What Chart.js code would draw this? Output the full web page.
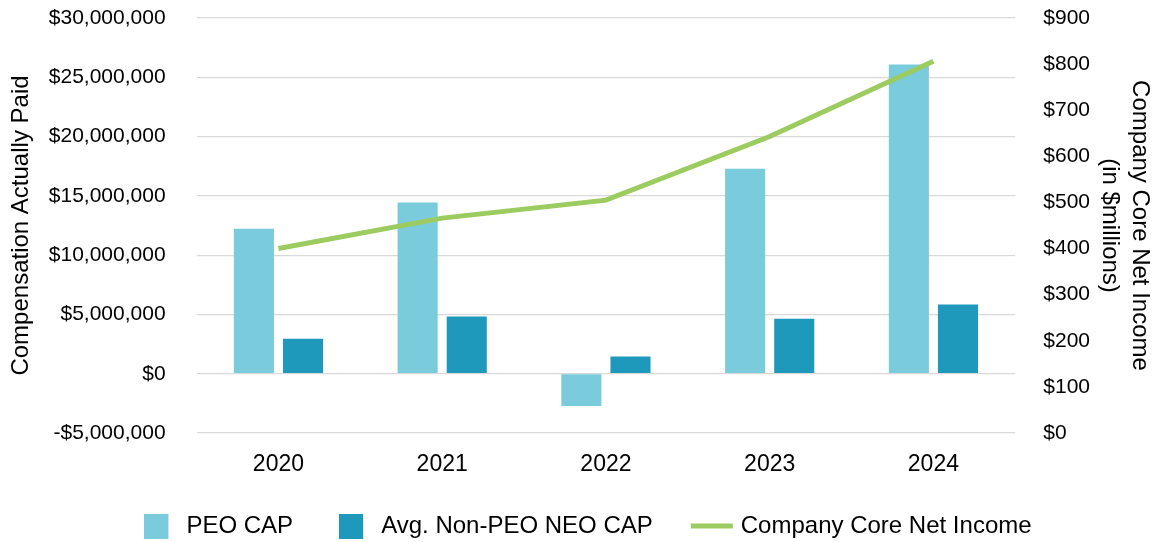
<!DOCTYPE html>
<html>
<head>
<meta charset="utf-8">
<script src="https://cdn.jsdelivr.net/npm/chart.js@4/dist/chart.umd.min.js"></script>
<style>
  html, body { margin: 0; padding: 0; background: #fff; }
  #wrap { width: 1159px; height: 542px; }
</style>
</head>
<body>
<div id="wrap"><canvas id="cap-chart"></canvas></div>
<script>
var years = ['2020', '2021', '2022', '2023', '2024'];
var peo_cap = [12230000, 14440000, -2720000, 17280000, 26080000];
var neo_cap = [2950000, 4830000, 1460000, 4640000, 5840000];
var core_net_income = [400, 466, 505, 643, 806];   // $ millions

var series_names = ['PEO CAP', 'Avg. Non-PEO NEO CAP', 'Company Core Net Income'];
var left_title = 'Compensation Actually Paid';
var right_title = ['Company Core Net Income', '(in $millions)'];

var c_peo = '#7ACBDC';
var c_neo = '#1E99BB';
var c_line = '#9CCB5F';
var font_family = "'Liberation Sans', Arial, sans-serif";

// legend swatches drawn on small canvases (x0 = where the fill starts inside the canvas)
function swatch(cw, ch, x0, w, h, color) {
    var cv = document.createElement('canvas');
    cv.width = cw;
    cv.height = ch;
    var cx = cv.getContext('2d');
    cx.fillStyle = color;
    cx.fillRect(x0, (ch - h) / 2, w, h);
    return cv;
}
var legend_marks = [
    swatch(30, 25, 0, 24, 25, c_peo),
    swatch(30, 25, 0, 24, 25, c_neo),
    swatch(52, 6, 3, 42, 5, c_line)
];

function money(v) {
    return (v < 0 ? '-$' : '$') + Math.abs(v).toLocaleString('en-US');
}

// legend keeps its wide item spacing but takes less room at the bottom
var legend_fit = {
    id: 'legend_fit',
    afterInit: function(chart) {
        var lg = chart.legend;
        var fit0 = lg.fit;
        var draw0 = lg.draw;
        lg.fit = function() {
            fit0.call(this);
            this.height = 62;
        };
        lg.draw = function() {
            var t = this.top, l = this.left, r = this.right;
            this.top = t - 12;
            this.left = l + 7;
            this.right = r + 7;
            draw0.apply(this, arguments);
            this.top = t;
            this.left = l;
            this.right = r;
        };
    }
};

Chart.defaults.font.family = font_family;
Chart.defaults.color = '#000';

var cap_chart = new Chart(document.getElementById('cap-chart'), {
    type: 'bar',
    data: {
        labels: years,
        datasets: [{
            label: series_names[0],
            data: peo_cap,
            backgroundColor: c_peo,
            categoryPercentage: 0.6,
            barPercentage: 0.816,
            yAxisID: 'y',
            order: 1
        }, {
            label: series_names[1],
            data: neo_cap,
            backgroundColor: c_neo,
            categoryPercentage: 0.6,
            barPercentage: 0.816,
            yAxisID: 'y',
            order: 1
        }, {
            type: 'line',
            label: series_names[2],
            data: core_net_income,
            borderColor: c_line,
            backgroundColor: c_line,
            borderWidth: 5,
            pointRadius: 0,
            pointHoverRadius: 0,
            tension: 0,
            yAxisID: 'y1',
            order: 0
        }]
    },
    plugins: [legend_fit],
    options: {
        responsive: true,
        maintainAspectRatio: false,
        animation: false,
        layout: { padding: { top: 18, bottom: 0, left: 3, right: 0 } },
        plugins: {
            tooltip: { enabled: false },
            legend: {
                position: 'bottom',
                labels: {
                    usePointStyle: true,
                    pointStyleWidth: 30,
                    padding: 46,
                    font: { size: 24 },
                    color: '#000',
                    generateLabels: function(chart) {
                        return chart.data.datasets.map(function(ds, i) {
                            return {
                                text: ds.label,
                                fillStyle: ds.backgroundColor,
                                strokeStyle: ds.backgroundColor,
                                lineWidth: 0,
                                pointStyle: legend_marks[i],
                                datasetIndex: i,
                                hidden: false
                            };
                        });
                    }
                }
            }
        },
        scales: {
            x: {
                grid: { display: false, drawTicks: false },
                border: { display: false },
                ticks: { font: { size: 23 }, padding: 18 },
                afterFit: function(scale) { scale.height = 47; }
            },
            y: {
                position: 'left',
                min: -5000000,
                max: 30000000,
                border: { display: false },
                grid: { color: '#D9D9D9', lineWidth: 1.2, drawTicks: true, tickLength: 26, tickColor: 'rgba(0,0,0,0)' },
                ticks: {
                    stepSize: 5000000,
                    font: { size: 21 },
                    padding: 5,
                    callback: function(v) { return money(v); }
                },
                title: {
                    display: true,
                    text: left_title,
                    font: { size: 24 },
                    padding: { top: 4, bottom: 8 }
                }
            },
            y1: {
                position: 'right',
                min: 0,
                max: 900,
                border: { display: false },
                grid: { drawOnChartArea: false, color: 'rgba(0,0,0,0)', drawTicks: true, tickLength: 23, tickColor: 'rgba(0,0,0,0)' },
                ticks: {
                    stepSize: 100,
                    font: { size: 21 },
                    padding: 5,
                    callback: function(v) { return '$' + v; }
                },
                title: {
                    display: true,
                    text: right_title,
                    font: { size: 24, lineHeight: 1.25 },
                    padding: { top: 4, bottom: 0 }
                }
            }
        }
    }
});
</script>
</body>
</html>
